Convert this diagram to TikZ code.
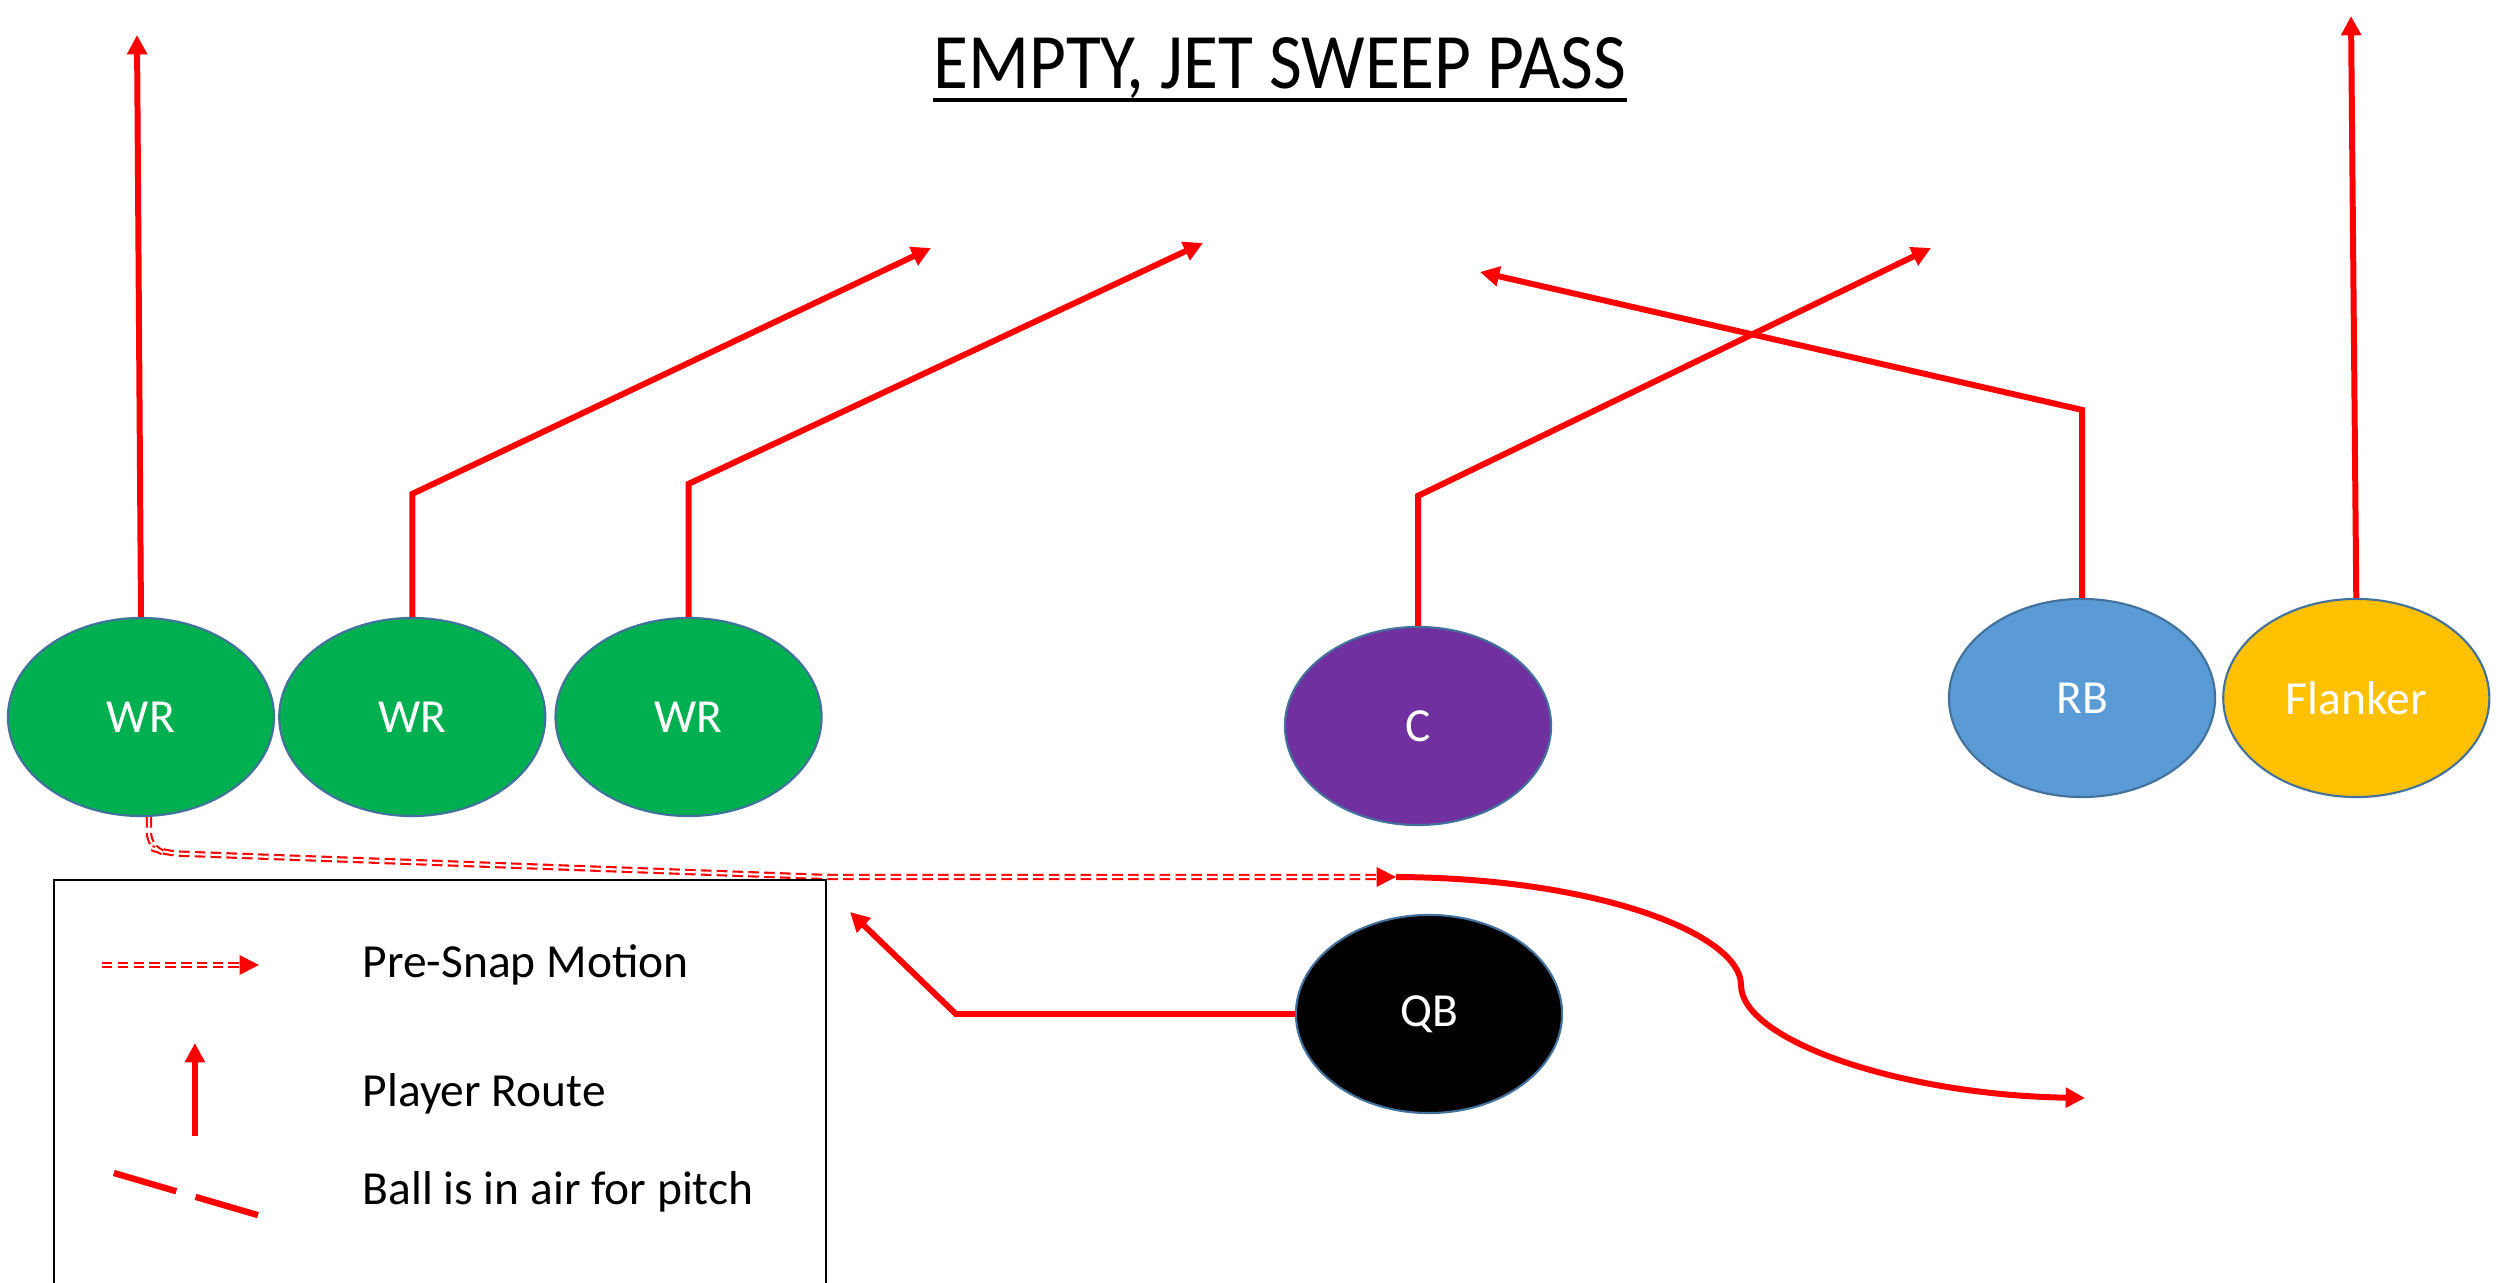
\documentclass[tikz,border=0pt]{standalone}
\usepackage{fontspec}
\setmainfont{Carlito}
\usetikzlibrary{positioning,arrows.meta,shapes.geometric}

\definecolor{wrgreen}{HTML}{00B050}
\definecolor{cpurple}{HTML}{7030A0}
\definecolor{rbblue}{HTML}{5B9BD5}
\definecolor{flankergold}{HTML}{FFC000}
\definecolor{edgeblue}{HTML}{41719C}
\definecolor{routered}{HTML}{FF0000}

\begin{document}
\begin{tikzpicture}[
    x=0.01cm, y=-0.01cm,
    player/.style={ellipse, draw=edgeblue, line width=0.6pt, minimum width=2.66cm, minimum height=1.98cm, inner sep=0pt, text=white, font=\fontsize{13.5}{16}\selectfont},
    route/.style={draw=routered, line width=1.7pt, -{Triangle[length=5.5pt,width=5.5pt]}},
    motion/.style={draw=routered, double=white, double distance=0.6pt, line width=0.6pt, dash pattern=on 3pt off 1.5pt, -{Triangle[length=5.5pt,width=5.5pt]}},
    pitch/.style={draw=routered, line width=1.8pt, dash pattern=on 18.5pt off 5.7pt},
    legtext/.style={anchor=west, inner sep=0pt, font=\fontsize{13.5}{16}\selectfont}
]
    \useasboundingbox (0,0) rectangle (2509,1283);

    % Title
    \node[font=\fontsize{20.3}{24}\selectfont, inner sep=0pt, anchor=base] (title) at (1280,89) {\scalebox{1}[1.1]{EMPTY, JET SWEEP PASS}};
    \draw[line width=1.1pt] ([yshift=-0.11cm]title.base west) -- ([yshift=-0.11cm]title.base east);

    % Players
    \node[player, fill=wrgreen] (wr1) at (141,717) {WR};
    \node[player, fill=wrgreen, right=0.03cm of wr1] (wr2) {WR};
    \node[player, fill=wrgreen, right=0.08cm of wr2] (wr3) {WR};
    \node[player, fill=cpurple] (c) at (1418,726) {C};
    \node[player, fill=rbblue] (rb) at (2082,698) {RB};
    \node[player, fill=flankergold, right=0.06cm of rb] (flanker) {Flanker};
    \node[player, fill=black] (qb) at (1429,1014) {QB};

    % Route ends
    \coordinate (wr1end) at (137,35);
    \coordinate (wr2end) at (931,248);
    \coordinate (wr3end) at (1203,243);
    \coordinate (cend) at (1931,248);
    \coordinate (rbend) at (1480,272);
    \coordinate (flankerend) at (2351,16);
    \coordinate (qbend) at (850,912);
    \coordinate (jet) at (1396,877);
    \coordinate (sweepend) at (2085,1098);

    % Routes
    \draw[route] (wr1.north) -- (wr1end);
    \draw[route] (wr2.north) -- ++(0,-123) -- (wr2end);
    \draw[route] (wr3.north) -- ++(0,-133) -- (wr3end);
    \draw[route] (c.north) -- ++(0,-130) -- (cend);
    \draw[route] (rb.north) -- ++(0,-188) -- (rbend);
    \draw[route] (flanker.north) -- (flankerend);
    \draw[route] (qb.west) -- ++(-339,0) -- (qbend);

    % Jet motion and sweep
    \draw[motion, rounded corners=4pt] ([xshift=0.08cm]wr1.south) -- ++(0,30) -- ++(16,6) -- (826,877) -- (jet);
    \draw[route] (jet) .. controls (1600,878) and (1741,935) .. (1741,985)
        .. controls (1741,1040) and (1900,1095) .. (sweepend);

    % Legend
    \draw[line width=0.8pt] (54,1290) |- (826,880) -- (826,1290);
    \node[legtext] (lmotion) at (362,965) {Pre-Snap Motion};
    \node[legtext] (lroute) at (362,1094) {Player Route};
    \node[legtext] (lpitch) at (362,1192) {Ball is in air for pitch};
    \draw[motion] ([xshift=-2.6cm]lmotion.west) -- ([xshift=-1.03cm]lmotion.west);
    \draw[route] ([xshift=-1.67cm, yshift=-0.42cm]lroute.west) -- ++(0,-93);
    \draw[pitch] ([xshift=-2.48cm, yshift=0.19cm]lpitch.west) -- ([xshift=-1.01cm, yshift=-0.24cm]lpitch.west);

\end{tikzpicture}
\end{document}
